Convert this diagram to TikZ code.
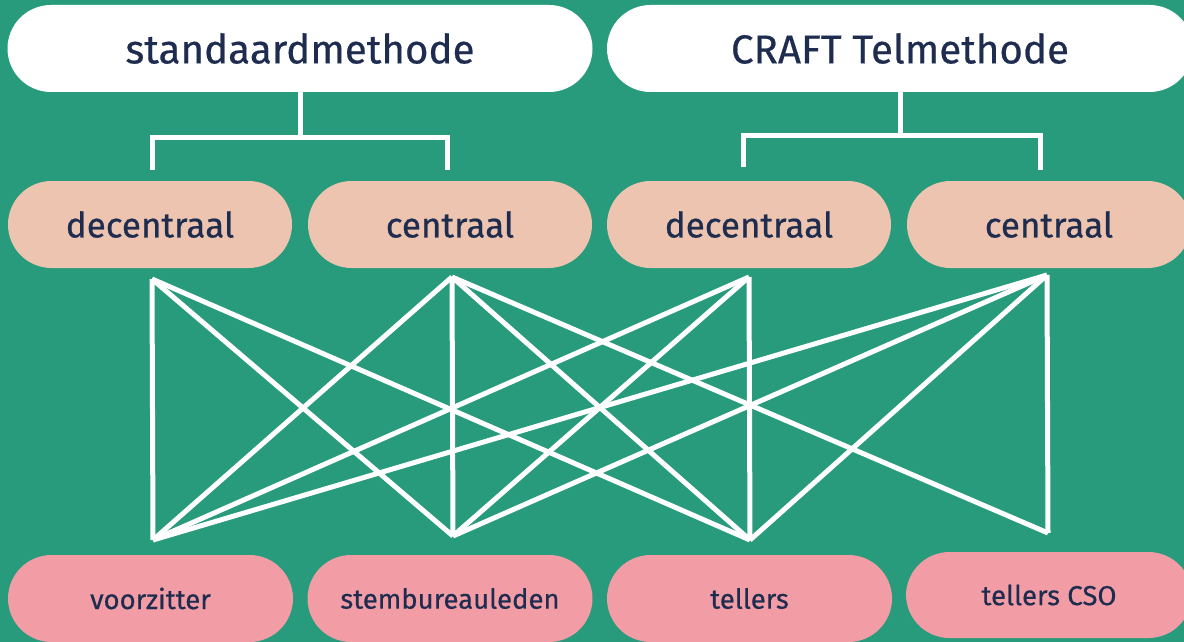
\documentclass[tikz,border=0pt]{standalone}
\usepackage{fontspec}
\setmainfont[FakeBold=0.5]{Fira Sans}
\definecolor{bg}{HTML}{279B7B}
\definecolor{peach}{HTML}{EDC4B0}
\definecolor{pinkc}{HTML}{F29CA5}
\definecolor{txt}{HTML}{1E2D4F}
\begin{document}
\begin{tikzpicture}[x=1pt,y=-1pt,
  pill/.style={rectangle, rounded corners=43.5pt, minimum height=87pt, inner sep=0pt, text=txt},
  topbox/.style={pill, fill=white, minimum width=585pt, font=\fontsize{40.3}{44}\selectfont},
  midbox/.style={pill, fill=peach, minimum width=284pt, font=\fontsize{35}{40}\selectfont},
  botbox/.style={pill, fill=pinkc, minimum width=285pt, font=\fontsize{27.5}{30}\selectfont},
  wire/.style={draw=white, line width=5pt}]
\useasboundingbox (0,0) rectangle (1184,642);
\clip (0,0) rectangle (1184,642);
\fill[bg] (0,0) rectangle (1184,642);

% top boxes
\node[topbox] (sm) at (300,48.5) {standaardmethode};
\node[topbox, minimum width=586pt] (craft) at (900,48.5) {CRAFT Telmethode};

% middle boxes
\node[midbox] (dec1) at (150,224.5) {decentraal};
\node[midbox] (cen1) at (450,224.5) {centraal};
\node[midbox] (dec2) at (749,224.5) {decentraal};
\node[midbox] (cen2) at (1049,224.5) {centraal};

% bottom boxes
\node[botbox] (voor) at (150.5,598.5) {voorzitter};
\node[botbox] (stem) at (450,598.5) {stembureauleden};
\node[botbox] (tell) at (749.5,598.5) {tellers};
\node[botbox, minimum width=286pt, minimum height=86pt] (tcso) at (1049,595) {tellers CSO};

% tree connectors
\coordinate (j1) at (300,137);
\coordinate (a1) at (152,170);
\coordinate (a2) at (447,170);
\draw[wire] (sm.south) -- (j1);
\draw[wire] (a1) |- (j1) -| (a2);

\coordinate (j2) at (900,135);
\coordinate (a3) at (743,167);
\coordinate (a4) at (1040,170);
\draw[wire] (craft.south) -- (j2);
\draw[wire] (a3) |- (j2) -| (a4);

% lattice end points
\coordinate (T1) at (152,279);
\coordinate (T2) at (452,277);
\coordinate (T3) at (749,277);
\coordinate (T4) at (1047,275);
\coordinate (B1) at (153,540);
\coordinate (B2) at (453,536);
\coordinate (B3) at (750,540);
\coordinate (B4) at (1048,533);

\foreach \a/\b in {T1/B1,T1/B2,T1/B3,
                   T2/B1,T2/B2,T2/B3,T2/B4,
                   T3/B1,T3/B2,T3/B3,
                   T4/B1,T4/B2,T4/B3,T4/B4}
  \draw[wire] (\a) -- (\b);
\end{tikzpicture}
\end{document}
